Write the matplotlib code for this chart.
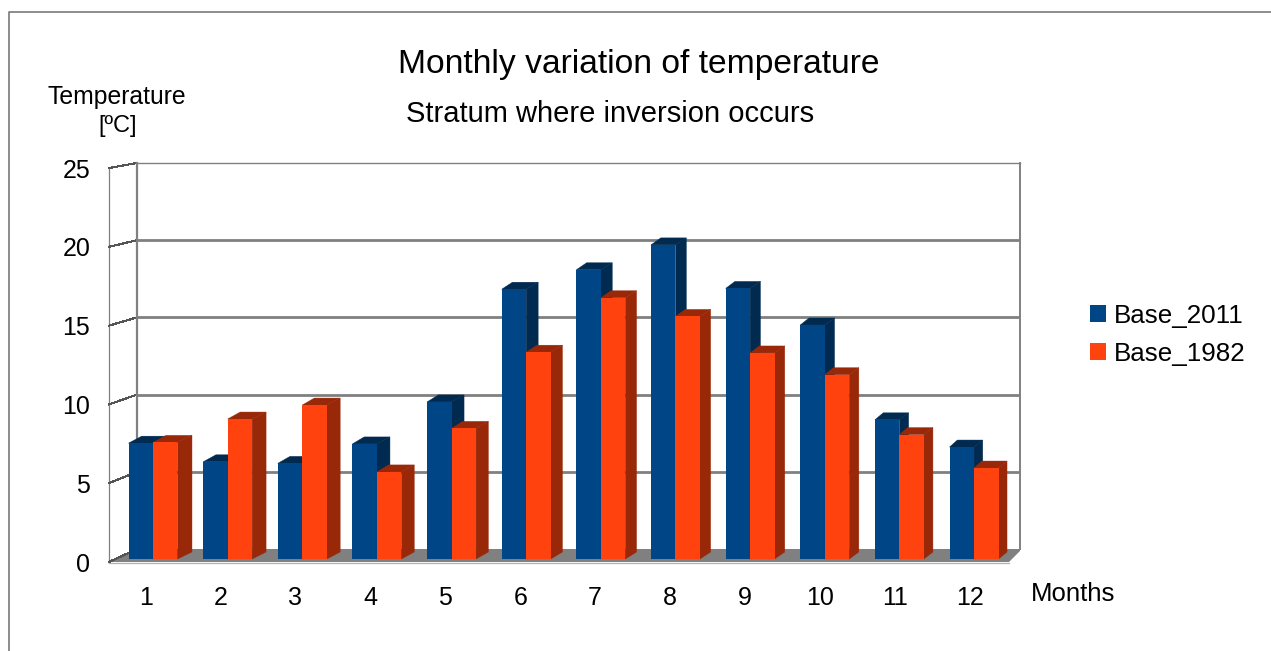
import numpy as np
import matplotlib
matplotlib.use("Agg")
import matplotlib.pyplot as plt
from matplotlib.patches import Polygon

plt.rcParams['font.family'] = ['Liberation Sans', 'DejaVu Sans']

months = np.arange(1, 13)
base_2011 = [7.45, 6.25, 6.15, 7.4, 10.1, 17.35, 18.6, 20.2, 17.4, 15.05, 8.95, 7.2]
base_1982 = [7.5, 9.0, 9.9, 5.6, 8.4, 13.3, 16.8, 15.6, 13.25, 11.85, 8.0, 5.85]
yticks = [0, 5, 10, 15, 20, 25]

W, H = 1271, 651
BLUE, BLUE_DK = '#004586', '#002a50'
ORANGE, ORANGE_DK = '#ff420e', '#992809'
GREY = '#808080'

# axes rectangle from pixel edges of the picture
def rect(left, top, right, bottom):
    return [left / W, 1 - bottom / H, (right - left) / W, (bottom - top) / H]

fig = plt.figure(figsize=(W / 100, H / 100), dpi=100, facecolor='white')

# whole figure in pixels: frame, floor, side wall and the texts
bg = fig.add_axes([0, 0, 1, 1])
bg.set_xlim(0, W)
bg.set_ylim(H, 0)
bg.axis('off')
bg.plot([8.5, 8.5, W], [H, 11.5, 11.5], color='#6e6e6e', lw=1.1)
bg.add_patch(Polygon([(109, 562), (1009, 562), (1020, 551), (1020, 549), (137, 549)],
                     closed=True, fc=GREY, ec='none'))
bg.plot([109, 109], [168, 562], color=GREY, lw=0.9)
bg.plot([109, 1009], [562.5, 562.5], color='#b0b0b0', lw=0.9)
for v in yticks:
    y_front = 562 - v * 15.76
    y_back = 549 - v * 15.44
    bg.plot([109, 137], [y_front, y_back], color='#555555', lw=0.8, antialiased=False)

bg.text(639, 65, 'Monthly variation of temperature', fontsize=24.2, ha='center', va='center', color='black')
bg.text(610, 114, 'Stratum where inversion occurs', fontsize=21, ha='center', va='center', color='black')
bg.text(117, 97, 'Temperature', fontsize=17.8, ha='center', va='center', color='black')
bg.text(118, 126, '[ºC]', fontsize=17, ha='center', va='center', color='black')
bg.text(1031, 594, 'Months', fontsize=18.5, ha='left', va='center', color='black')

# back wall with the grid
back = fig.add_axes(rect(137, 163, 1020, 549))
back.set_ylim(0, 25)
back.set_xticks([])
back.set_yticks(yticks[1:-1])
back.tick_params(left=False, labelleft=False)
back.grid(axis='y', color=GREY, lw=2.0)
back.patch.set_alpha(0)
back.spines['bottom'].set_visible(False)
back.spines['top'].set_color(GREY)
back.spines['top'].set_linewidth(1.0)
back.spines['left'].set_color(GREY)
back.spines['left'].set_linewidth(1.6)
back.spines['right'].set_color(GREY)
back.spines['right'].set_linewidth(1.4)

# front edge carrying the value labels
front = fig.add_axes(rect(109, 168, 1009, 562))
front.set_ylim(0, 25)
front.set_xticks([])
front.set_yticks(yticks)
front.tick_params(axis='y', length=0, pad=13.5, labelsize=18)
front.patch.set_alpha(0)
for s in front.spines.values():
    s.set_visible(False)

# bars, 0 sits at y=559 px and one degree is 15.55 px
PX_X, PX_Y = 74.64, 15.55
ax = fig.add_axes(rect(109, 168, 1009, 562))
ax.set_xlim(1 + (109 - 153) / PX_X, 1 + (1009 - 153) / PX_X)
ax.set_ylim(-3 / PX_Y, 391 / PX_Y)
ax.patch.set_alpha(0)
for s in ax.spines.values():
    s.set_visible(False)
ax.set_yticks([])

width = 0.328
dy = 7 / PX_Y

def depth(x):
    px = 153 + (x - 1) * PX_X
    return (14.5 - 6 * (px - 177) / 821) / PX_X

def draw_series(xs, values, color, dark, label, z):
    ax.bar(xs, values, width=width, color=color, label=label, zorder=z + 1)
    for x, v in zip(xs, values):
        x0, x1 = x - width / 2, x + width / 2
        d = depth(x1)
        ax.add_patch(Polygon([(x1, 0), (x1, v), (x1 + d, v + dy), (x1 + d, dy)],
                             closed=True, fc=dark, ec=dark, lw=0.3, zorder=z))
        ax.add_patch(Polygon([(x0, v), (x0 + d * 0.9, v + dy), (x1 + d, v + dy), (x1, v)],
                             closed=True, fc=dark, ec=dark, lw=0.3, zorder=z))

draw_series(months - width / 2, base_2011, BLUE, BLUE_DK, 'Base_2011', 2)
draw_series(months + width / 2, base_1982, ORANGE, ORANGE_DK, 'Base_1982', 4)

ax.set_xticks(months - depth(months) * 0.5)
ax.set_xticklabels([str(m) for m in months])
ax.tick_params(axis='x', length=0, pad=17.5, labelsize=18)

ax.legend(loc='upper left', bbox_to_anchor=(1090 / W, 1 - 304 / H), bbox_transform=fig.transFigure,
          frameon=False, fontsize=18.7, handlelength=0.62, handleheight=0.62, handletextpad=0.3,
          labelspacing=0.52, borderpad=0, borderaxespad=0)

fig.savefig('out.png', dpi=100)
